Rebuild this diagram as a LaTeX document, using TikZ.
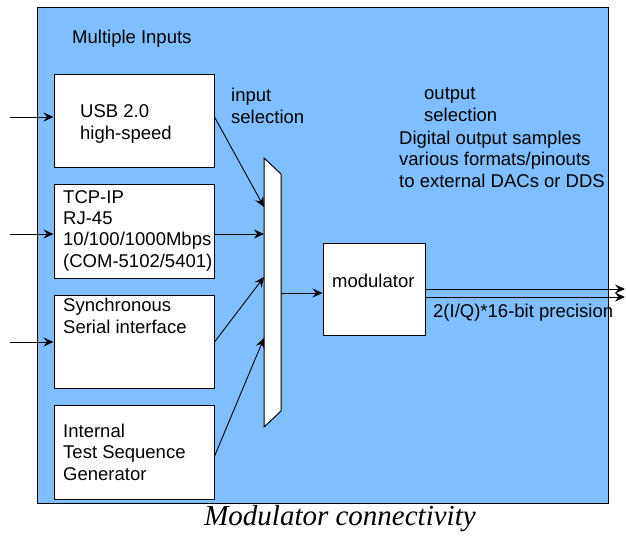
\documentclass[tikz,border=0pt]{standalone}
\usepackage{fontspec}
\setmainfont{Liberation Sans}
\newfontfamily\capfont{Liberation Serif}
\usetikzlibrary{positioning,arrows.meta}
\definecolor{boardblue}{RGB}{128,191,255}

\begin{document}
\begin{tikzpicture}[x=1pt,y=-1pt,
				every node/.style={font=\fontsize{18.5}{21.3}\selectfont},
				block/.style={draw,fill=white,line width=1pt,minimum width=160pt,minimum height=93.5pt,inner sep=0pt,node distance=16pt},
				lbl/.style={anchor=base west,align=left,inner sep=0pt},
				arr/.style={-{Stealth[length=10pt,width=9pt,inset=3.5pt]},line width=0.9pt}]
				\useasboundingbox (0,0) rectangle (626,536);
				\node[draw,fill=boardblue,line width=1pt,minimum width=571pt,minimum height=496pt] (board) at (322.5,255) {};
				
				\node[block] (usb)                  at (134,120.75) {};
				\node[block] (tcp)  [below=of usb]  {};
				\node[block] (sync) [below=of tcp]  {};
				\node[block] (gen)  [below=of sync] {};
				\node[block,minimum width=102pt,minimum height=92pt] (mod) at (374,289) {};
				\draw[fill=white,line width=1pt] (264,158) -- (281,174) -- (281,411) -- (264,427) -- cycle;
				
				% labels (anchored at the baseline of their last line)
				\node[lbl] (inputs)  at (72,43)   {Multiple Inputs};
				\node[lbl] (usbtxt)  at (80,139)  {USB 2.0\\high-speed};
				\node[lbl] (tcptxt)  at (63,267)  {TCP-IP\\RJ-45\\10/100/1000Mbps\\(COM-5102/5401)};
				\node[lbl] (synctxt) at (63,333)  {Synchronous\\Serial interface};
				\node[lbl] (gentxt)  at (63,480)  {Internal\\Test Sequence\\Generator};
				\node[lbl] (insel)   at (231,123) {input\\selection};
				\node[lbl] (outsel)  at (424,121) {output\\selection};
				\node[lbl] (digital) at (399,187) {Digital output samples\\various formats/pinouts\\to external DACs or DDS};
				\node[lbl] (modtxt)  at (332,287) {modulator};
				\node[lbl] (prec)    at (433,317) {2(I/Q)*16-bit precision};
				\node[font=\capfont\itshape\fontsize{29}{33}\selectfont,anchor=base,inner sep=0pt] (caption) at (340,525) {Modulator connectivity};
				
				% inputs
				\coordinate (inusb)  at (10,117);
				\coordinate (intcp)  at (10,234);
				\coordinate (insync) at (10,342);
				\draw[arr] (inusb)  -- (inusb -| usb.west);
				\draw[arr] (intcp)  -- (intcp -| tcp.west);
				\draw[arr] (insync) -- (insync -| sync.west);
				
				% mux
				\coordinate (muxa)   at (264,207);
				\coordinate (muxb)   at (264,234);
				\coordinate (muxc)   at (264,277);
				\coordinate (muxd)   at (264,338);
				\coordinate (muxout) at (281,293);
				\draw[arr] (inusb -| usb.east)   -- (muxa);
				\draw[arr] (intcp -| tcp.east)   -- (muxb);
				\draw[arr] (insync -| sync.east) -- (muxc);
				\draw[arr] ([yshift=-4pt]gen.east) -- (muxd);
				\draw[arr] (muxout) -- (muxout -| mod.west);
				
				% outputs
				\coordinate (outa) at (625,289);
				\coordinate (outb) at (625,297);
				\draw[arr] (outa -| mod.east) -- (outa);
				\draw[arr] (outb -| mod.east) -- (outb);
			\end{tikzpicture}
\end{document}
